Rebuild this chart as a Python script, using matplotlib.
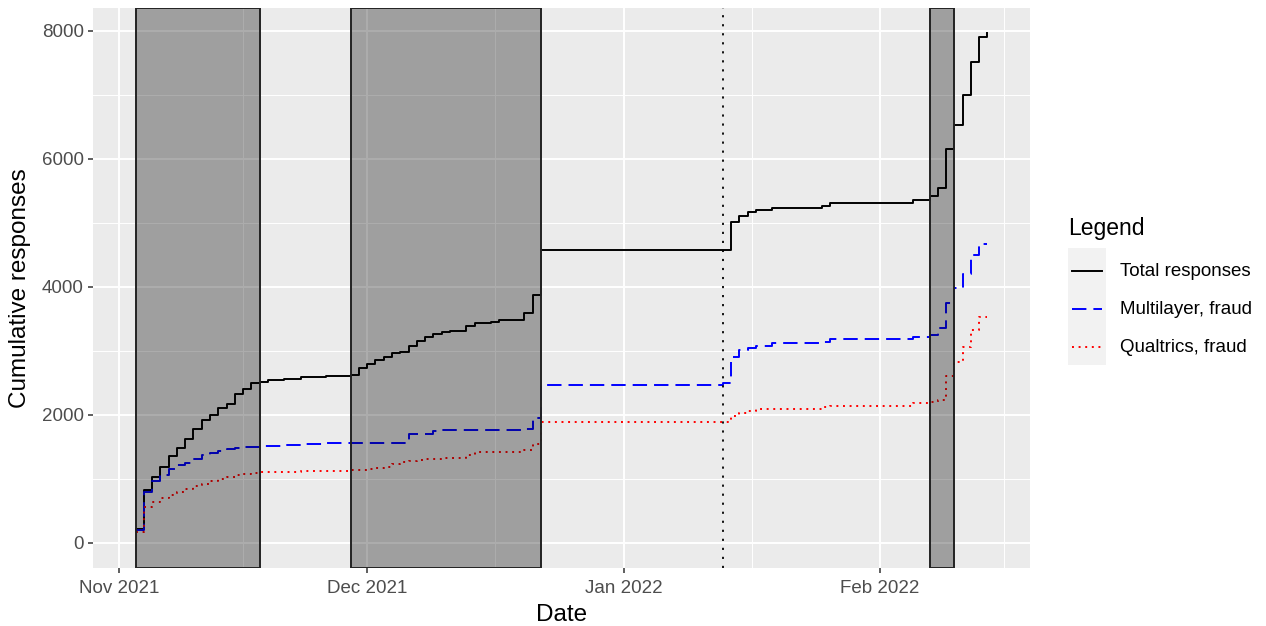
import matplotlib
matplotlib.use("Agg")
import matplotlib.pyplot as plt
import matplotlib.dates as mdates
from matplotlib.patches import Rectangle
from matplotlib.lines import Line2D
import pandas as pd

plt.rcParams['font.family'] = ['Liberation Sans', 'DejaVu Sans']

# change points of the cumulative counts (step, post)
dates = [
    "2021-11-03", "2021-11-04", "2021-11-05", "2021-11-06", "2021-11-07", "2021-11-08",
    "2021-11-09", "2021-11-10", "2021-11-11", "2021-11-12", "2021-11-13", "2021-11-14",
    "2021-11-15", "2021-11-16", "2021-11-17", "2021-11-18", "2021-11-19",
    "2021-11-21", "2021-11-23", "2021-11-26", "2021-11-29", "2021-11-30",
    "2021-12-01", "2021-12-02", "2021-12-03", "2021-12-04", "2021-12-05", "2021-12-06",
    "2021-12-07", "2021-12-08", "2021-12-09", "2021-12-10", "2021-12-11",
    "2021-12-13", "2021-12-14", "2021-12-16", "2021-12-17", "2021-12-20", "2021-12-21",
    "2021-12-22",
    "2022-01-13", "2022-01-14", "2022-01-15", "2022-01-16", "2022-01-17", "2022-01-19",
    "2022-01-25", "2022-01-26",
    "2022-02-05", "2022-02-07", "2022-02-08", "2022-02-09", "2022-02-10", "2022-02-11",
    "2022-02-12", "2022-02-13", "2022-02-14",
]

total = [
    204, 814, 1023, 1180, 1347, 1477, 1613, 1780, 1915, 2000, 2098, 2172, 2322, 2401, 2490, 2515, 2537,
    2558, 2579, 2600, 2615, 2720,
    2787, 2855, 2907, 2960, 2980, 3074, 3153, 3205, 3257, 3283, 3299,
    3378, 3430, 3450, 3481, 3586, 3873, 4573,
    4573, 5005, 5110, 5161, 5192, 5230, 5255, 5310,
    5360, 5410, 5544, 6154, 6520, 6990, 7512, 7892, 7955,
]

multilayer = [
    190, 790, 960, 1060, 1143, 1206, 1248, 1310, 1367, 1400, 1430, 1460, 1480, 1488, 1500, 1508, 1512,
    1526, 1542, 1558, 1558, 1558,
    1558, 1558, 1558, 1558, 1558, 1703, 1703, 1703, 1739, 1755, 1755,
    1755, 1755, 1755, 1760, 1777, 1948, 2464,
    2500, 2892, 3006, 3038, 3074, 3111, 3137, 3179,
    3215, 3240, 3347, 3750, 3985, 4197, 4494, 4667, 4667,
]

qualtrics = [
    168, 560, 640, 700, 745, 790, 840, 880, 920, 965, 1000, 1030, 1055, 1075, 1090, 1100, 1102,
    1108, 1115, 1125, 1130, 1140,
    1150, 1165, 1185, 1225, 1255, 1275, 1290, 1300, 1310, 1320, 1325,
    1362, 1410, 1414, 1420, 1440, 1540, 1880,
    1880, 1975, 2018, 2053, 2080, 2090, 2116, 2132,
    2180, 2195, 2222, 2600, 2825, 3050, 3320, 3525, 3530,
]

shade_start = ["2021-11-03", "2021-11-29", "2022-02-07"]
shade_end = ["2021-11-18", "2021-12-22", "2022-02-10"]
cutoff_date = "2022-01-13"
minor_x = ["2021-11-16T00:00", "2021-12-16T12:00", "2022-01-16T12:00", "2022-02-16T00:00"]

series_labels = ["Total responses", "Multilayer, fraud", "Qualtrics, fraud"]

W, H = 1266, 626
fig = plt.figure(figsize=(W / 100, H / 100), dpi=100)
ax = fig.add_axes([93 / W, 1 - 568 / H, (1030 - 93) / W, (568 - 8) / H])
ax.set_facecolor("#EBEBEB")
for s in ax.spines.values():
    s.set_visible(False)

x = pd.to_datetime(dates)
lw = 1.4
ax.step(x, total, where="post", color="black", lw=lw, zorder=3)
ax.step(x, multilayer, where="post", color="#0000FF", lw=lw, zorder=3,
        linestyle=(0, (7.4, 3.6)), dash_capstyle="butt")
ax.step(x, qualtrics, where="post", color="#FF0000", lw=lw, zorder=3,
        linestyle=(0, (1.0, 2.4)), dash_capstyle="butt")

for a, b in zip(shade_start, shade_end):
    ax.axvspan(pd.Timestamp(a), pd.Timestamp(b), facecolor=(0, 0, 0, 0.32),
               edgecolor="#222222", lw=1.4, zorder=4)

ax.axvline(pd.Timestamp(cutoff_date), color="black", lw=1.3,
           linestyle=(0, (1.2, 3.8)), zorder=5)

# scales, ggplot-style 5% expansion
span = x.max() - x.min()
ax.set_xlim(x.min() - span * 0.05, x.max() + span * 0.05)
ymax = max(total)
ax.set_ylim(-0.05 * ymax, ymax * 1.05)

ax.xaxis.set_major_locator(mdates.MonthLocator())
ax.xaxis.set_major_formatter(mdates.DateFormatter("%b %Y"))
ax.set_xticks(pd.to_datetime(minor_x, format="ISO8601"), minor=True)
ax.set_yticks([0, 2000, 4000, 6000, 8000])
ax.set_yticks([1000, 3000, 5000, 7000], minor=True)

ax.grid(which="major", color="white", lw=1.4, zorder=0)
ax.grid(which="minor", color="white", lw=0.7, zorder=0)
ax.set_axisbelow(True)

ax.tick_params(which="major", length=3.5, width=1.1, color="#333333",
               labelsize=13.5, labelcolor="#4D4D4D", pad=3)
ax.tick_params(axis="x", which="major", pad=5)
ax.tick_params(which="minor", length=0)

ax.set_xlabel("Date", fontsize=17.5, labelpad=5)
ax.set_ylabel("Cumulative responses", fontsize=17.5, labelpad=8)

# legend drawn in pixel coordinates
lax = fig.add_axes([0, 0, 1, 1])
lax.set_xlim(0, W)
lax.set_ylim(H, 0)
lax.axis("off")
lax.text(1068, 228, "Legend", fontsize=16.5, va="center", ha="left")
lax.add_patch(Rectangle((1068, 248), 38, 117, facecolor="#F2F2F2", edgecolor="none"))
key_styles = [
    dict(color="black", linestyle="-"),
    dict(color="#0000FF", linestyle=(0, (7.4, 3.6))),
    dict(color="#FF0000", linestyle=(0, (1.0, 2.4))),
]
for i, (lab, st) in enumerate(zip(series_labels, key_styles)):
    yk = 271 + 38 * i
    lax.add_line(Line2D([1072, 1102], [yk, yk], lw=lw, dash_capstyle="butt", **st))
    lax.text(1120, yk, lab, fontsize=13.5, va="center", ha="left")

fig.savefig("out.png", dpi=100)
